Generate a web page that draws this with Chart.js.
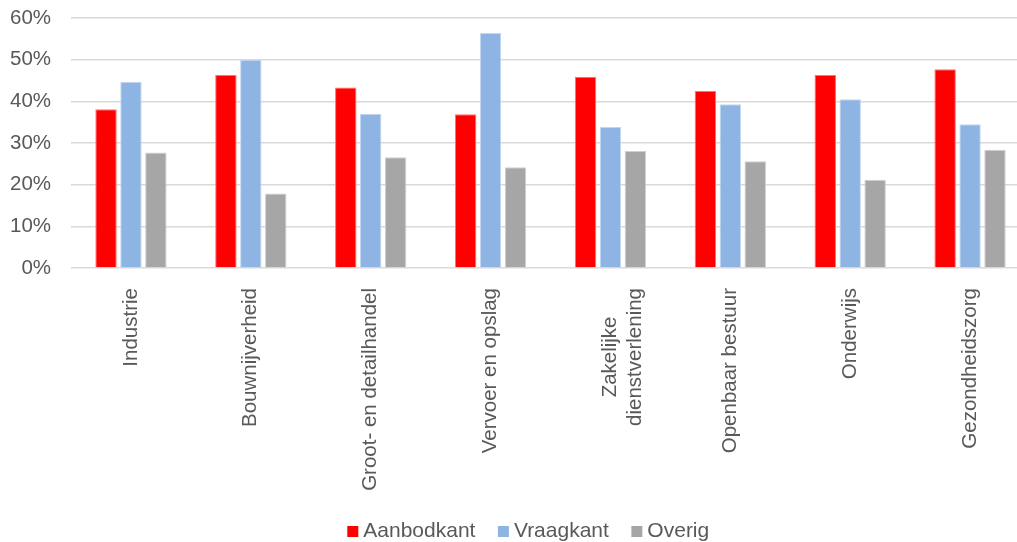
<!DOCTYPE html>
<html>
<head>
<meta charset="utf-8">
<script src="https://cdn.jsdelivr.net/npm/chart.js@4"></script>
<style>
  html, body { margin: 0; padding: 0; background: #fff; overflow: hidden; }
  #wrap { width: 1060px; height: 542px; }
</style>
</head>
<body>
<div id="wrap"><canvas id="c" width="1060" height="542"></canvas></div>
<script>
const categories = [
  "Industrie",
  "Bouwnijverheid",
  "Groot- en detailhandel",
  "Vervoer en opslag",
  ["Zakelijke", "dienstverlening"],
  "Openbaar bestuur",
  "Onderwijs",
  "Gezondheidszorg"
];
const seriesNames = ["Aanbodkant", "Vraagkant", "Overig"];
const aanbodkant = [38.1, 46.3, 43.3, 36.9, 45.9, 42.5, 46.3, 47.7];
const vraagkant  = [44.7, 50.0, 37.0, 56.4, 33.9, 39.3, 40.5, 34.5];
const overig     = [27.7, 17.9, 26.6, 24.2, 28.1, 25.6, 21.2, 28.4];
const yTicks = [0, 10, 20, 30, 40, 50, 60];

const FONT = "'Liberation Sans', Arial, sans-serif";
const FS = 20.5;
const FS_LEG = 21;
const TXT = "#595959";
const LEG_DX = 21;

// helper to center multi-line rotated labels (Chart.js right-aligns them)
const mctx = document.createElement('canvas').getContext('2d');
mctx.font = FS + "px " + FONT;
function centerLines(lbl) {
  if (!Array.isArray(lbl)) return lbl;
  const widths = lbl.map(s => mctx.measureText(s).width);
  const maxW = Math.max(...widths);
  const sp = mctx.measureText(" ").width;
  return lbl.map((s, i) => s + " ".repeat(Math.round((maxW - widths[i]) / 2 / sp)));
}

const shiftLegend = {
  id: 'shiftLegend',
  afterLayout(chart) {
    if (chart.legend) { chart.legend.left += LEG_DX; chart.legend.right += LEG_DX; }
  }
};

new Chart(document.getElementById('c'), {
  type: 'bar',
  data: {
    labels: categories,
    datasets: [
      { label: seriesNames[0], data: aanbodkant, backgroundColor: '#FF0000', borderColor: '#FF7070', borderWidth: 1 },
      { label: seriesNames[1], data: vraagkant, backgroundColor: '#8EB4E3', borderColor: '#C4D8F1', borderWidth: 1 },
      { label: seriesNames[2], data: overig, backgroundColor: '#A6A6A6', borderColor: '#D0D0D0', borderWidth: 1 }
    ]
  },
  plugins: [shiftLegend],
  options: {
    responsive: false,
    animation: false,
    devicePixelRatio: 1,
    layout: { padding: { left: -10, right: 30, top: 18, bottom: -10 } },
    datasets: { bar: { categoryPercentage: 0.624, barPercentage: 0.86 } },
    scales: {
      x: {
        grid: { display: false, drawTicks: false },
        border: { display: false },
        afterFit: (axis) => { axis.height = 225; },
        ticks: {
          color: TXT,
          font: { family: FONT, size: FS },
          maxRotation: 90, minRotation: 90,
          padding: 20,
          autoSkip: false,
          callback: function (v, i) { return centerLines(categories[i]); }
        }
      },
      y: {
        min: 0, max: 60,
        afterBuildTicks: (axis) => { axis.ticks = yTicks.map(v => ({ value: v })); },
        afterFit: (axis) => { axis.paddingTop = 0; },
        grid: { color: '#D9D9D9', lineWidth: 1.5, drawTicks: false },
        border: { display: false },
        ticks: {
          color: TXT,
          font: { family: FONT, size: FS },
          padding: 20,
          callback: v => v + '%'
        }
      }
    },
    plugins: {
      tooltip: { enabled: false },
      legend: {
        position: 'bottom',
        labels: {
          color: TXT,
          font: { family: FONT, size: FS_LEG },
          usePointStyle: true,
          pointStyle: 'rect',
          boxWidth: 0.01, boxHeight: 11,
          padding: 28,
          generateLabels: (chart) => chart.data.datasets.map((ds, i) => ({
            text: ds.label,
            fillStyle: ds.backgroundColor,
            strokeStyle: ds.backgroundColor,
            lineWidth: 0,
            pointStyle: 'rect',
            hidden: false,
            datasetIndex: i,
            fontColor: TXT
          }))
        }
      }
    }
  }
});
</script>
</body>
</html>
